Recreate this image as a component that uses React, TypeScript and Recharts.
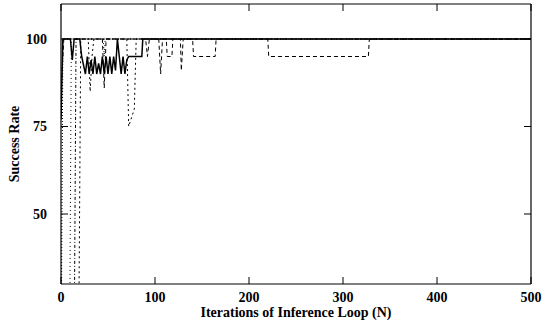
import React from "react";
import { LineChart, Line, XAxis, YAxis, ReferenceLine } from "recharts";

// x ticks / y ticks
const xTicks = [0, 100, 200, 300, 400, 500];
const yTicks = [50, 75, 100];

// solid run
const solidN = [0, 2, 10, 12, 14, 20, 22, 26, 28, 30, 32, 34, 36, 38, 40, 42, 44, 46, 48, 50, 52, 54, 56, 58, 60, 62, 64, 66, 68, 70, 72, 86, 87, 500];
const solidV = [77, 100, 100, 94, 100, 100, 95, 90, 95, 90, 94, 90, 95, 90, 93, 90, 95, 90, 95, 90, 95, 90, 95, 91, 100, 95, 90, 95, 90, 94, 95, 95, 100, 100];

// long dashed run
const dashN = [0, 3, 44, 46, 48, 90, 92, 94, 104, 106, 108, 112, 113, 118, 119, 127, 128, 130, 140, 141, 164, 165, 220, 221, 327, 328, 500];
const dashV = [85, 100, 100, 86, 100, 100, 95, 100, 100, 90, 100, 100, 95, 95, 100, 100, 91, 100, 100, 95, 95, 100, 100, 95, 95, 100, 100];

// short dashed run (dip near 72)
const shortN = [0, 19, 21, 29, 31, 33, 35, 70, 72, 78, 80, 500];
const shortV = [10, 20, 100, 100, 85, 95, 100, 100, 75, 80, 100, 100];

// dotted runs
const dotAN = [0, 2, 500];
const dotAV = [0, 100, 100];
const dotBN = [0, 9, 11, 45, 46, 47, 500];
const dotBV = [0, 5, 100, 100, 95, 100, 100];
const dotCN = [0, 14, 16, 500];
const dotCV = [5, 10, 100, 100];

const toRows = (ns: number[], vs: number[]) => ns.map((n, i) => ({ n, v: vs[i] }));

const W = 544;
const H = 328;
const LEFT = 61;
const RIGHT = 531;
const TOP = 4;
const BOTTOM = 284;
const TICK = 7;
const font = { fontFamily: "'Liberation Serif', 'Times New Roman', serif", fontSize: 14, fontWeight: "bold" as const };

const XTick = (props: any) => {
  const { x, payload } = props;
  return (
    <g>
      <line x1={x} x2={x} y1={BOTTOM} y2={BOTTOM - TICK} stroke="#000" />
      <line x1={x} x2={x} y1={TOP} y2={TOP + TICK} stroke="#000" />
      <text x={x} y={BOTTOM + 13} dy="0.35em" textAnchor="middle" fill="#000" {...font}>
        {payload.value}
      </text>
    </g>
  );
};

const YTick = (props: any) => {
  const { y, payload } = props;
  return (
    <g>
      <line x1={LEFT} x2={LEFT + TICK} y1={y} y2={y} stroke="#000" />
      <line x1={RIGHT} x2={RIGHT - TICK} y1={y} y2={y} stroke="#000" />
      <text x={LEFT - 14} y={y} dy="0.35em" textAnchor="end" fill="#000" {...font}>
        {payload.value}
      </text>
    </g>
  );
};

export default function App() {
  return (
    <div style={{ width: W, height: H, position: "relative" }}>
      <style>{"body{margin:0;background:#fff}"}</style>
      <LineChart width={W} height={H} margin={{ top: TOP, right: W - RIGHT, bottom: 0, left: 0 }}>
        <XAxis
          dataKey="n"
          type="number"
          domain={[0, 500]}
          ticks={xTicks}
          height={H - BOTTOM}
          tick={XTick}
          tickLine={false}
          axisLine={{ stroke: "#000", strokeWidth: 1.2 }}
          allowDataOverflow
          allowDuplicatedCategory={false}
        />
        <YAxis
          type="number"
          domain={[30, 110]}
          ticks={yTicks}
          width={LEFT}
          tick={YTick}
          tickLine={false}
          axisLine={{ stroke: "#000", strokeWidth: 1.2 }}
          allowDataOverflow
        />
        <ReferenceLine y={110} stroke="#000" strokeWidth={1.2} />
        <ReferenceLine x={500} stroke="#000" strokeWidth={1.2} />
        <Line data={toRows(dotAN, dotAV)} dataKey="v" stroke="#000" strokeWidth={1} strokeDasharray="1 2" dot={false} isAnimationActive={false} />
        <Line data={toRows(dotBN, dotBV)} dataKey="v" stroke="#000" strokeWidth={1} strokeDasharray="1 3" dot={false} isAnimationActive={false} />
        <Line data={toRows(dotCN, dotCV)} dataKey="v" stroke="#000" strokeWidth={1} strokeDasharray="3 2 1 2" dot={false} isAnimationActive={false} />
        <Line data={toRows(shortN, shortV)} dataKey="v" stroke="#000" strokeWidth={1} strokeDasharray="2 3" dot={false} isAnimationActive={false} />
        <Line data={toRows(dashN, dashV)} dataKey="v" stroke="#000" strokeWidth={1} strokeDasharray="4 3" dot={false} isAnimationActive={false} />
        <Line data={toRows(solidN, solidV)} dataKey="v" stroke="#000" strokeWidth={1.5} dot={false} isAnimationActive={false} />
      </LineChart>
      <div
        style={{
          position: "absolute",
          left: 15,
          top: (TOP + BOTTOM) / 2,
          transform: "translate(-50%, -50%) rotate(-90deg)",
          whiteSpace: "nowrap",
          ...font,
        }}
      >
        Success Rate
      </div>
      <div
        style={{
          position: "absolute",
          left: (LEFT + RIGHT) / 2,
          top: 313,
          transform: "translate(-50%, -50%)",
          whiteSpace: "nowrap",
          ...font,
        }}
      >
        Iterations of Inference Loop (N)
      </div>
    </div>
  );
}
